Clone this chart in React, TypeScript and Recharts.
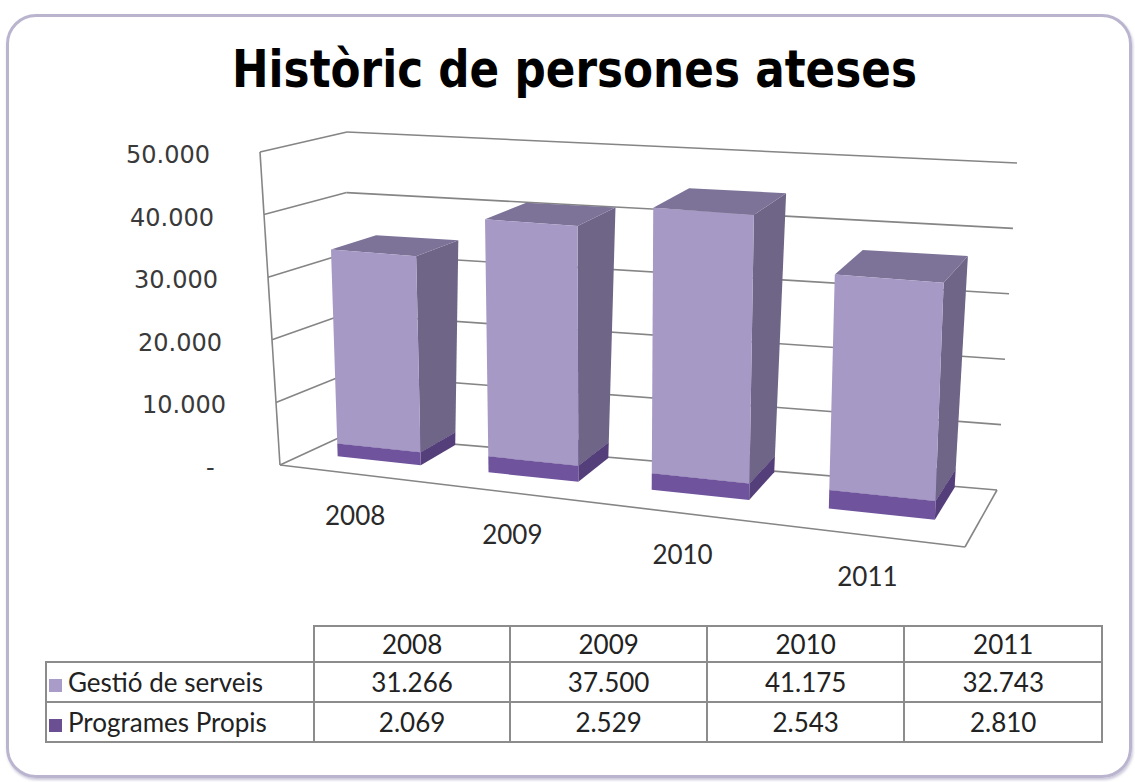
import { BarChart, Bar, XAxis, YAxis } from 'recharts';

const years = ['2008', '2009', '2010', '2011'];
const gestioServeis = [31266, 37500, 41175, 32743];
const programesPropis = [2069, 2529, 2543, 2810];
const yTicks = [0, 10000, 20000, 30000, 40000, 50000];
const Y_MAX = 50000;

const rows = years.map((year, i) => ({
  year,
  programes: programesPropis[i],
  gestio: gestioServeis[i],
}));

// flat plot box used by recharts, reprojected below
const PLOT = { left: 280, top: 152, width: 685, height: 313 };
const PLOT_BOTTOM = PLOT.top + PLOT.height;

// screen corners of the 3D box: [value 0, value max]
const CORNERS: Record<string, [number, number][]> = {
  FL: [[280, 465], [260, 152]],
  FR: [[965, 547], [975, 207]],
  BL: [[345, 435], [347, 132]],
  BR: [[997, 490], [1017, 163]],
};

const lerp = (a: number, b: number, t: number) => a + (b - a) * t;

function corner(k: string, t: number): [number, number] {
  const [a, b] = CORNERS[k];
  return [lerp(a[0], b[0], t), lerp(a[1], b[1], t)];
}

// right side is nearer the viewer, so spacing grows to the right
const PERSP = -0.15;
const warp = (u: number) => (u * (1 + PERSP)) / (1 + PERSP * u);

// u: across categories, d: depth (0 front, 1 back), t: value share
function proj(uFlat: number, d: number, t: number): [number, number] {
  const u = warp(uFlat);
  const fl = corner('FL', t);
  const fr = corner('FR', t);
  const bl = corner('BL', t);
  const br = corner('BR', t);
  const f: [number, number] = [lerp(fl[0], fr[0], u), lerp(fl[1], fr[1], u)];
  const b: [number, number] = [lerp(bl[0], br[0], u), lerp(bl[1], br[1], u)];
  return [lerp(f[0], b[0], d), lerp(f[1], b[1], d)];
}

const pts = (list: [number, number][]) => list.map((p) => p.join(',')).join(' ');

const D0 = 0.4;
const D1 = 0.98;

const fmt = (n: number) => String(n).replace(/\B(?=(\d{3})+(?!\d))/g, '.');

interface Shades {
  front: string;
  side: string;
  top: string;
}

const GESTIO: Shades = { front: '#a699c5', side: '#6e6587', top: '#7d7398' };
const PROGRAMES: Shades = { front: '#6f539d', side: '#553f7b', top: '#634a8c' };

function makeBox(c: Shades) {
  return (props: any) => {
    const { x, y, width, height } = props;
    if (width == null || height == null) return <g />;
    const u0 = (x - PLOT.left) / PLOT.width;
    const u1 = (x + width - PLOT.left) / PLOT.width;
    const t1 = (PLOT_BOTTOM - y) / PLOT.height;
    const t0 = (PLOT_BOTTOM - (y + height)) / PLOT.height;
    const front = [proj(u0, D0, t0), proj(u1, D0, t0), proj(u1, D0, t1), proj(u0, D0, t1)];
    const side = [proj(u1, D0, t0), proj(u1, D1, t0), proj(u1, D1, t1), proj(u1, D0, t1)];
    const top = [proj(u0, D0, t1), proj(u1, D0, t1), proj(u1, D1, t1), proj(u0, D1, t1)];
    return (
      <g>
        <polygon points={pts(side)} fill={c.side} />
        <polygon points={pts(top)} fill={c.top} />
        <polygon points={pts(front)} fill={c.front} />
      </g>
    );
  };
}

const YTick = (props: any) => {
  const { y, payload } = props;
  const t = (PLOT_BOTTOM - y) / PLOT.height;
  const [ex, ey] = proj(0, 0, t);
  const label = payload.value === 0 ? '-\u00a0\u00a0' : fmt(payload.value);
  return (
    <text x={ex - 50} y={ey + 3} textAnchor="end" dominantBaseline="central"
      fontFamily="DejaVu Sans" fontSize={24} fill="#3a3a3a">
      {label}
    </text>
  );
};

const XTick = (props: any) => {
  const { x, payload } = props;
  const u = (x - PLOT.left) / PLOT.width;
  const [px, py] = proj(u, 0, 0);
  return (
    <text x={px + 1} y={py + 41} textAnchor="middle" dominantBaseline="central"
      fontFamily="Lato" fontSize={26} fill="#2a2a2a">
      {payload.value}
    </text>
  );
};

function Walls() {
  const line = (a: [number, number], b: [number, number], key: string) => (
    <line key={key} x1={a[0]} y1={a[1]} x2={b[0]} y2={b[1]} stroke="#858585" strokeWidth={1.6} />
  );
  return (
    <svg width={1135} height={782} style={{ position: 'absolute', left: 0, top: 0 }}>
      {yTicks.map((v) => {
        const t = v / Y_MAX;
        return (
          <g key={v}>
            {line(corner('FL', t), corner('BL', t), 'l' + v)}
            {line(corner('BL', t), corner('BR', t), 'b' + v)}
          </g>
        );
      })}
      {line(corner('FL', 0), corner('FL', 1), 'edge')}
      {line(corner('FL', 0), corner('FR', 0), 'floorF')}
      {line(corner('FR', 0), corner('BR', 0), 'floorR')}
    </svg>
  );
}

const cell: React.CSSProperties = {
  border: '2px solid #8c8c8c',
  textAlign: 'center',
  padding: 0,
  height: 38,
};

export default function App() {
  return (
    <div style={{ position: 'absolute', left: 0, top: 0, width: 1135, height: 782, background: '#fff', overflow: 'hidden' }}>
      <div style={{
        position: 'absolute', left: 6, top: 14, width: 1120, height: 758,
        border: '3px solid #bab4cf', borderRadius: 30, boxShadow: '1px 2px 3px #c9c5d8',
      }} />
      <svg width={1135} height={120} style={{ position: 'absolute', left: 0, top: 0 }}>
        <text x={232} y={87} textLength={685} lengthAdjust="spacingAndGlyphs"
          fontFamily="DejaVu Sans" fontWeight="bold" fontSize={51} fill="#000">
          Històric de persones ateses
        </text>
      </svg>
      <Walls />
      <div style={{ position: 'absolute', left: 0, top: 0 }}>
        <BarChart width={1135} height={782} data={rows}
          margin={{ top: PLOT.top, right: 1135 - PLOT.left - PLOT.width, bottom: 782 - PLOT_BOTTOM - 40, left: PLOT.left - 70 }}
          barCategoryGap="22%">
          <XAxis dataKey="year" height={40} axisLine={false} tickLine={false} tick={<XTick />} />
          <YAxis width={70} domain={[0, Y_MAX]} ticks={yTicks} axisLine={false} tickLine={false} tick={<YTick />} />
          <Bar dataKey="programes" stackId="a" shape={makeBox(PROGRAMES)} isAnimationActive={false} />
          <Bar dataKey="gestio" stackId="a" shape={makeBox(GESTIO)} isAnimationActive={false} />
        </BarChart>
      </div>
      <table style={{
        position: 'absolute', left: 45, top: 625, width: 1058, borderCollapse: 'collapse',
        fontFamily: 'Lato', fontSize: 26, color: '#222',
      }}>
        <colgroup>
          <col style={{ width: 268 }} />
          <col style={{ width: 197 }} />
          <col style={{ width: 197 }} />
          <col style={{ width: 198 }} />
          <col style={{ width: 198 }} />
        </colgroup>
        <tbody>
          <tr>
            <td style={{ ...cell, border: 'none', borderBottom: '2px solid #8c8c8c', height: 34 }} />
            {years.map((y) => <td key={y} style={{ ...cell, height: 34 }}>{y}</td>)}
          </tr>
          <tr>
            <td style={{ ...cell, textAlign: 'left', whiteSpace: 'nowrap' }}>
              <span style={{ display: 'inline-block', width: 13, height: 13, background: '#a99cc9', margin: '0 6px 0 2px' }} />
              Gestió de serveis
            </td>
            {gestioServeis.map((v, i) => <td key={i} style={cell}>{fmt(v)}</td>)}
          </tr>
          <tr>
            <td style={{ ...cell, textAlign: 'left', whiteSpace: 'nowrap' }}>
              <span style={{ display: 'inline-block', width: 13, height: 13, background: '#6b4f93', margin: '0 6px 0 2px' }} />
              Programes Propis
            </td>
            {programesPropis.map((v, i) => <td key={i} style={cell}>{fmt(v)}</td>)}
          </tr>
        </tbody>
      </table>
    </div>
  );
}
